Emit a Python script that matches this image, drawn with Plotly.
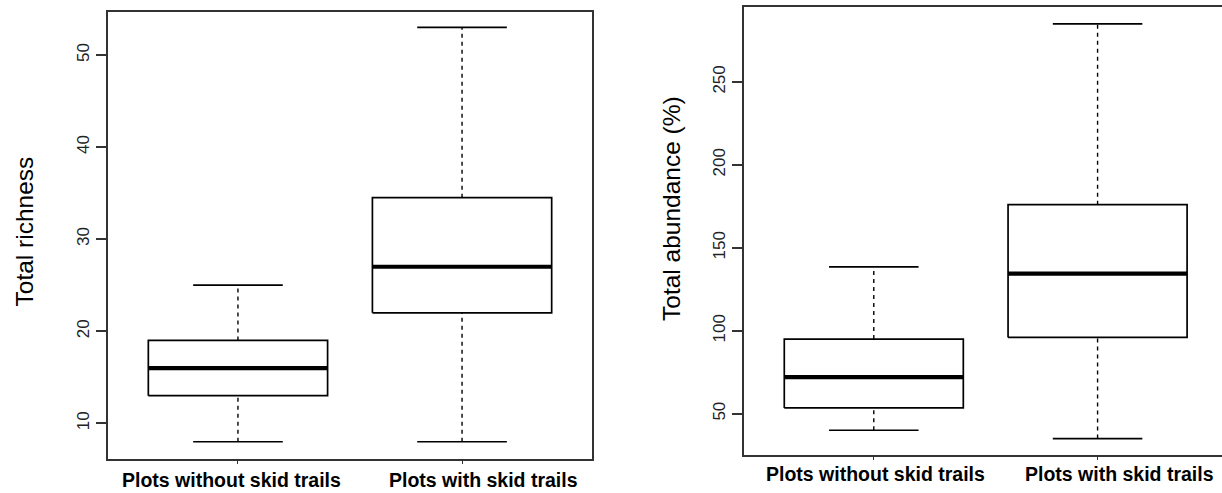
import plotly.graph_objects as go

# Group labels shared by both panels
groups = ["Plots without skid trails", "Plots with skid trails"]
positions = [1, 2]

# Total richness: five-number summaries per group
rich_low = [8, 8]
rich_q1 = [13, 22]
rich_med = [16, 27]
rich_q3 = [19, 34.5]
rich_high = [25, 53]
rich_ticks = [10, 20, 30, 40, 50]

# Total abundance (%): five-number summaries per group
abund_low = [40, 35]
abund_q1 = [53.5, 96]
abund_med = [72, 134.5]
abund_q3 = [95, 176]
abund_high = [138.5, 285]
abund_ticks = [50, 100, 150, 200, 250]

FONT = "Liberation Sans, Arial, sans-serif"
BOX_HALF = 0.4
STAPLE_HALF = 0.2
FRAME = "#333333"

fig = go.Figure()


def add_boxes(xa, ya, low, q1, med, q3, high):
    for x, lo, a, m, b, hi in zip(positions, low, q1, med, q3, high):
        common = dict(xaxis=xa, yaxis=ya, mode="lines", showlegend=False,
                      hoverinfo="skip")
        # dashed whiskers
        fig.add_trace(go.Scatter(x=[x, x, None, x, x], y=[lo, a, None, b, hi],
                                 line=dict(color="black", width=1.4, dash="4px,4px"),
                                 **common))
        # staples
        fig.add_trace(go.Scatter(x=[x - STAPLE_HALF, x + STAPLE_HALF, None,
                                    x - STAPLE_HALF, x + STAPLE_HALF],
                                 y=[lo, lo, None, hi, hi],
                                 line=dict(color="black", width=1.6), **common))
        # box
        fig.add_trace(go.Scatter(x=[x - BOX_HALF, x + BOX_HALF, x + BOX_HALF,
                                    x - BOX_HALF, x - BOX_HALF],
                                 y=[a, a, b, b, a], fill="toself",
                                 fillcolor="white",
                                 line=dict(color="black", width=1.7), **common))
        # median
        fig.add_trace(go.Scatter(x=[x - BOX_HALF, x + BOX_HALF], y=[m, m],
                                 line=dict(color="black", width=4.2), **common))


add_boxes("x", "y", rich_low, rich_q1, rich_med, rich_q3, rich_high)
add_boxes("x2", "y2", abund_low, abund_q1, abund_med, abund_q3, abund_high)

W, H = 1222, 493

xcommon = dict(showgrid=False, zeroline=False, showline=True, linecolor=FRAME,
               linewidth=2, mirror=True, tickvals=positions, ticktext=["", ""],
               ticks="outside", ticklen=3, tickwidth=1.2, tickcolor=FRAME,
               fixedrange=True)
ycommon = dict(showgrid=False, zeroline=False, showline=True, linecolor=FRAME,
               linewidth=2, ticks="outside", ticklen=10, tickwidth=1.5,
               tickcolor=FRAME, tickangle=-90,
               tickfont=dict(family=FONT, size=17, color="#222222"),
               fixedrange=True)

fig.update_layout(
    width=W, height=H,
    margin=dict(l=0, r=0, t=0, b=0),
    paper_bgcolor="white", plot_bgcolor="white",
    xaxis=dict(domain=[108 / W, 592 / W], range=[0.42, 2.58], anchor="y",
               **xcommon),
    yaxis=dict(domain=[1 - 459 / H, 1 - 12 / H], range=[6.12, 54.67],
               tickvals=rich_ticks, anchor="x", mirror=True, **ycommon),
    xaxis2=dict(domain=[744 / W, 1], range=[0.42, 2.556], anchor="y2",
                **xcommon),
    yaxis2=dict(domain=[1 - 455 / H, 1 - 7.3 / H], range=[25.1, 295],
                tickvals=abund_ticks, anchor="x2", mirror=False, **ycommon),
)

# group labels under each panel
label_x = {"x": [0.969, 2.097], "x2": [1.009, 2.10]}
label_y = {"x": 1 - 479.5 / H, "x2": 1 - 474 / H}
for xa in ["x", "x2"]:
    for xv, name in zip(label_x[xa], groups):
        fig.add_annotation(x=xv, y=label_y[xa], xref=xa, yref="paper",
                           text="<b>%s</b>" % name, showarrow=False,
                           xanchor="center", yanchor="middle",
                           font=dict(family=FONT, size=19.5, color="black"))

# axis titles
fig.add_annotation(x=24 / W, y=1 - 231.5 / H, xref="paper", yref="paper",
                   text="Total richness", textangle=-90, showarrow=False,
                   xanchor="center", yanchor="middle",
                   font=dict(family=FONT, size=24.5, color="black"))
fig.add_annotation(x=671 / W, y=1 - 209 / H, xref="paper", yref="paper",
                   text="Total abundance (%)", textangle=-90, showarrow=False,
                   xanchor="center", yanchor="middle",
                   font=dict(family=FONT, size=24.5, color="black"))

fig.write_html("out.html")
